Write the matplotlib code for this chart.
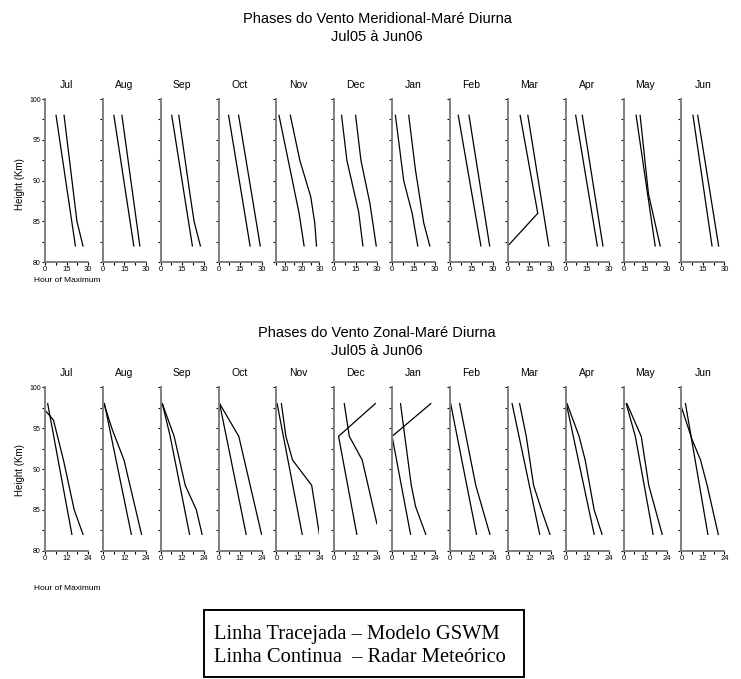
import matplotlib
matplotlib.use("Agg")
import matplotlib.pyplot as plt
from matplotlib.ticker import MultipleLocator, FixedLocator
from matplotlib.patches import Rectangle

months = ['Jul', 'Aug', 'Sep', 'Oct', 'Nov', 'Dec', 'Jan', 'Feb', 'Mar', 'Apr', 'May', 'Jun']

# Meridional wind, diurnal tide: phase (hour of maximum) vs height (km)
mer_l1_h = [[98, 82], [98, 82], [98, 82], [98, 82], [98, 86, 82], [98, 92.5, 86.2, 82],
            [98, 90, 86, 82], [98, 82], [98, 86, 82], [98, 82], [98, 82], [98, 82]]
mer_l1_x = [[7.7, 21.2], [7.7, 21.6], [7.7, 22.1], [7.0, 22.0], [6.5, 18.2, 21.1], [5.1, 8.8, 17.0, 20.0],
            [2.3, 8.1, 14.0, 17.9], [5.8, 21.6], [8.6, 20.9, 0.0], [7.0, 22.1], [8.8, 22.1], [8.1, 21.4]]
mer_l2_h = [[98, 85, 82], [98, 82], [98, 88, 85, 82], [98, 82], [98, 92.5, 88, 84.8, 82],
            [98, 92.5, 87.2, 82], [98, 91.3, 84.8, 82], [98, 82], [98, 82], [98, 82], [98, 88.4, 82], [98, 82]]
mer_l2_x = [[13.3, 22.3, 26.5], [13.3, 25.8], [12.6, 20.7, 23.3, 27.7], [14.0, 29.1], [13.1, 18.6, 25.0, 27.3, 28.3],
            [14.9, 18.6, 24.9, 29.3], [11.6, 16.3, 22.1, 26.3], [13.3, 27.7], [14.0, 28.6], [11.6, 26.0],
            [11.6, 17.4, 25.6], [11.4, 26.0]]

# Zonal wind, diurnal tide
zon_l1_h = [[98, 82], [98, 82], [98, 94, 82], [98, 82], [98, 82], [98, 94, 91.1, 83.3],
            [98, 94, 82], [98, 82], [98, 82], [98, 82], [98, 94, 82], [98, 82]]
zon_l1_x = [[1.5, 15.0], [0.9, 15.9], [0.9, 5.3, 16.1], [0.6, 15.4], [0.4, 14.4], [5.6, 8.4, 15.6, 23.8],
            [21.6, 0.0, 10.3], [0.4, 14.8], [2.4, 17.8], [0.4, 15.9], [1.5, 6.6, 16.5], [2.3, 14.8]]
zon_l2_h = [[97.2, 96, 91.1, 85, 82], [98, 94.8, 91.1, 82], [98, 94, 88, 85, 82], [98, 94, 82],
            [98, 94, 91.1, 88, 82], [98, 94, 82], [98, 88, 85.4, 82], [98, 88, 82],
            [98, 94, 88, 85, 82], [98, 94, 91.1, 85, 82], [98, 94, 88, 82], [97.6, 93.6, 91.1, 88, 82]]
zon_l2_x = [[0.0, 4.7, 10.3, 16.3, 21.2], [0.6, 5.3, 11.8, 21.6], [0.9, 7.5, 13.7, 19.9, 23.1], [0.6, 11.3, 24.0],
            [2.8, 5.3, 9.0, 19.7, 24.0], [22.9, 2.4, 12.6], [4.7, 10.7, 13.1, 18.8], [5.4, 14.4, 22.3],
            [6.6, 10.3, 14.4, 18.8, 23.5], [0.8, 7.5, 10.9, 15.9, 20.3], [1.9, 9.9, 14.1, 21.6],
            [0.0, 6.0, 10.7, 14.4, 20.6]]

mer_xticks = [0, 15, 30]
mer_xticks_nov = [10, 20, 30]
zon_xticks = [0, 12, 24]
yticks = [80, 85, 90, 95, 100]

W, H = 741, 679
fig = plt.figure(figsize=(W / 100, H / 100), dpi=100)
plt.rcParams['font.family'] = ['Liberation Sans', 'DejaVu Sans']

spine_col = '#7f7f7f'


def fx(px):
    return px / W


def fy(py):
    return 1 - py / H


def panel(i, top_px, bot_px, l1h, l1x, l2h, l2x, xlim, xticks, xminor):
    left_px = 45 + 57.85 * i
    ax = fig.add_axes([fx(left_px), fy(bot_px), fx(43), (bot_px - top_px) / H])
    ax.plot(l1x, l1h, color='black', lw=0.9)
    ax.plot(l2x, l2h, color='black', lw=0.9)
    ax.set_xlim(*xlim)
    ax.set_ylim(80, 100)
    for s in ['top', 'right']:
        ax.spines[s].set_visible(False)
    for s in ['left', 'bottom']:
        ax.spines[s].set_color(spine_col)
        ax.spines[s].set_linewidth(1.4)
    ax.xaxis.set_major_locator(FixedLocator(xticks))
    ax.xaxis.set_minor_locator(MultipleLocator(xminor))
    ax.yaxis.set_major_locator(FixedLocator(yticks))
    ax.yaxis.set_minor_locator(MultipleLocator(2.5))
    ax.tick_params(which='both', direction='out', length=2, width=0.8, color='black',
                   labelsize=5.5, pad=1)
    ax.tick_params(axis='y', labelsize=5)
    if i != 0:
        ax.set_yticklabels([])
    ax.text(0.5, 1.0 + 14 / (bot_px - top_px), months[i], transform=ax.transAxes,
            ha='center', va='center', fontsize=7.5)
    ax.patch.set_visible(False)
    return ax


for i in range(12):
    if months[i] == 'Nov':
        panel(i, 99, 262.3, mer_l1_h[i], mer_l1_x[i], mer_l2_h[i], mer_l2_x[i],
              (5, 30), mer_xticks_nov, 5)
    else:
        panel(i, 99, 262.3, mer_l1_h[i], mer_l1_x[i], mer_l2_h[i], mer_l2_x[i],
              (0, 30), mer_xticks, 7.5)
    panel(i, 387.3, 550.7, zon_l1_h[i], zon_l1_x[i], zon_l2_h[i], zon_l2_x[i],
          (0, 24), zon_xticks, 6)

# Titles
fig.text(fx(377), fy(19), 'Phases do Vento Meridional-Maré Diurna', ha='center', va='center', fontsize=10.5)
fig.text(fx(377), fy(37), 'Jul05 à Jun06', ha='center', va='center', fontsize=10.5)
fig.text(fx(377), fy(333), 'Phases do Vento Zonal-Maré Diurna', ha='center', va='center', fontsize=10.5)
fig.text(fx(377), fy(351), 'Jul05 à Jun06', ha='center', va='center', fontsize=10.5)

# Axis labels
fig.text(fx(20), fy(184), 'Height (Km)', rotation=90, ha='center', va='center', fontsize=7)
fig.text(fx(20), fy(470), 'Height (Km)', rotation=90, ha='center', va='center', fontsize=7)
fig.text(fx(34), fy(280), 'Hour of Maximum', ha='left', va='center', fontsize=6)
fig.text(fx(34), fy(588), 'Hour of Maximum', ha='left', va='center', fontsize=6)

# Legend box
fig.patches.append(Rectangle((fx(204), fy(677)), fx(320), (677 - 610) / H, transform=fig.transFigure,
                             facecolor='white', edgecolor='black', lw=1.4))
fig.text(fx(214), fy(634), 'Linha Tracejada – Modelo GSWM', ha='left', va='center', fontsize=14.8,
         family=['Liberation Serif', 'DejaVu Serif'])
fig.text(fx(214), fy(657), 'Linha Continua  – Radar Meteórico', ha='left', va='center', fontsize=14.8,
         family=['Liberation Serif', 'DejaVu Serif'])

fig.savefig('out.png', dpi=100)
